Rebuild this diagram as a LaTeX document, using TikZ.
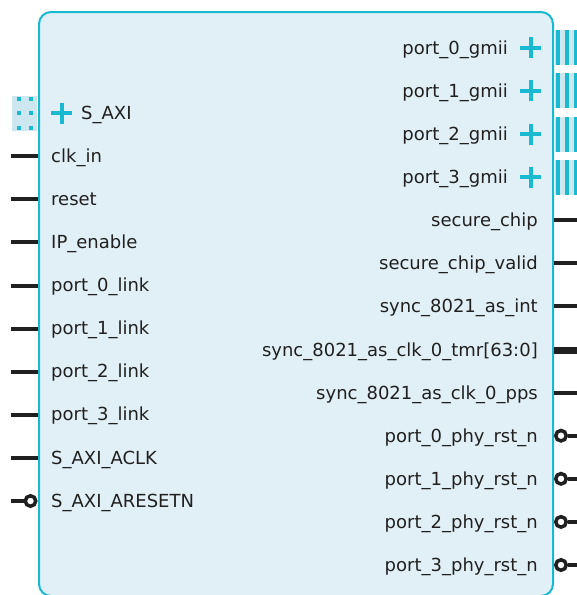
\documentclass[tikz,border=0pt]{standalone}
\usepackage{fontspec}
\setmainfont{DejaVu Sans}
\usepackage{xcolor}
\usepackage{tikz}
\usetikzlibrary{positioning, calc}
\definecolor{blockfill}{RGB}{225, 240, 247}
\definecolor{blockedge}{RGB}{24, 185, 209}
\definecolor{iconfill}{RGB}{205, 231, 240}
\definecolor{pintext}{RGB}{32, 32, 32}

\begin{document}
\begin{tikzpicture}[
    x=1pt, y=-1pt,
    block/.style={rectangle, draw=blockedge, fill=blockfill, line width=2pt, rounded corners=12pt,
                  minimum width=514pt, minimum height=584pt, inner sep=0pt},
    lport/.style={anchor=base west, inner sep=0pt, text=pintext, font=\fontsize{18}{20}\selectfont},
    rport/.style={anchor=base east, inner sep=0pt, text=pintext, font=\fontsize{18}{20}\selectfont},
    pin/.style={draw=pintext, line width=4pt},
    buspin/.style={draw=pintext, line width=7.5pt},
    bubble/.style={circle, draw=pintext, fill=white, line width=3.5pt, minimum size=10.5pt, inner sep=0pt},
    plus/.style={draw=blockedge, line width=4pt},
    dot/.style={fill=blockedge}
]
\useasboundingbox (0,0) rectangle (577,595);

% IP block
\node[block] (ip) at (296,304) {};

% S_AXI interface (left)
\fill[iconfill] (12,96) rectangle (37,131);
\fill[dot] (17,97) rectangle (21,101);
\fill[dot] (29,97) rectangle (33,101);
\fill[dot] (17,111) rectangle (21,115);
\fill[dot] (29,111) rectangle (33,115);
\fill[dot] (17,126) rectangle (21,130);
\fill[dot] (29,126) rectangle (33,130);
\draw[plus] (51,113) -- (72,113);
\draw[plus] (61.5,102.5) -- (61.5,123.5);
\node[lport] (saxi) at (81,119.5) {S\_AXI};

% Left ports
\node[lport] (clkin) at (51,162) {clk\_in};
\node[lport] (reset) at (51,205.5) {reset};
\node[lport] (ipen) at (51,248.5) {IP\_enable};
\node[lport] (link0) at (51,291.5) {port\_0\_link};
\node[lport] (link1) at (51,334.5) {port\_1\_link};
\node[lport] (link2) at (51,377.5) {port\_2\_link};
\node[lport] (link3) at (51,420.5) {port\_3\_link};
\node[lport] (aclk) at (51,464) {S\_AXI\_ACLK};
\node[lport] (aresetn) at (51,507) {S\_AXI\_ARESETN};

\coordinate (clkinE) at (11,156);
\coordinate (resetE) at (11,199);
\coordinate (ipenE) at (11,242);
\coordinate (link0E) at (11,285.5);
\coordinate (link1E) at (11,328.5);
\coordinate (link2E) at (11,371.5);
\coordinate (link3E) at (11,414.5);
\coordinate (aclkE) at (11,458);
\coordinate (aresetnE) at (11,501);
\node[bubble] (aresetnB) at (30.5,501) {};

\draw[pin] (clkinE) -- (clkinE -| ip.west);
\draw[pin] (resetE) -- (resetE -| ip.west);
\draw[pin] (ipenE) -- (ipenE -| ip.west);
\draw[pin] (link0E) -- (link0E -| ip.west);
\draw[pin] (link1E) -- (link1E -| ip.west);
\draw[pin] (link2E) -- (link2E -| ip.west);
\draw[pin] (link3E) -- (link3E -| ip.west);
\draw[pin] (aclkE) -- (aclkE -| ip.west);
\draw[pin] (aresetnE) -- (aresetnB);

% GMII interfaces (right)
\foreach \y in {47.8, 90.9, 134, 177.1} {
  \fill[iconfill] (555,\y-17.5) rectangle (577,\y+17.5);
  \fill[blockedge] (556,\y-17.5) rectangle (560,\y+17.5);
  \fill[blockedge] (565,\y-17.5) rectangle (569,\y+17.5);
  \fill[blockedge] (574,\y-17.5) rectangle (577,\y+17.5);
  \draw[plus] (520,\y) -- (541,\y);
  \draw[plus] (530.5,\y-10.5) -- (530.5,\y+10.5);
}
\node[rport] (gmii0) at (508,54.3) {port\_0\_gmii};
\node[rport] (gmii1) at (508,97.4) {port\_1\_gmii};
\node[rport] (gmii2) at (508,140.5) {port\_2\_gmii};
\node[rport] (gmii3) at (508,183.6) {port\_3\_gmii};

% Right ports
\node[rport] (chip) at (538,226.7) {secure\_chip};
\node[rport] (chipvalid) at (538,269.8) {secure\_chip\_valid};
\node[rport] (asint) at (538,312.9) {sync\_8021\_as\_int};
\node[rport] (tmr) at (538,356) {sync\_8021\_as\_clk\_0\_tmr[63:0]};
\node[rport] (pps) at (538,399.1) {sync\_8021\_as\_clk\_0\_pps};
\node[rport] (rst0) at (538,442.2) {port\_0\_phy\_rst\_n};
\node[rport] (rst1) at (538,485.3) {port\_1\_phy\_rst\_n};
\node[rport] (rst2) at (538,528.4) {port\_2\_phy\_rst\_n};
\node[rport] (rst3) at (538,571.5) {port\_3\_phy\_rst\_n};

\coordinate (chipE) at (577,220.2);
\coordinate (chipvalidE) at (577,263.3);
\coordinate (asintE) at (577,306.4);
\coordinate (tmrE) at (577,350.5);
\coordinate (ppsE) at (577,392.6);
\coordinate (rst0E) at (577,435.7);
\coordinate (rst1E) at (577,478.8);
\coordinate (rst2E) at (577,521.9);
\coordinate (rst3E) at (577,565);
\node[bubble] (rst0B) at (561,435.7) {};
\node[bubble] (rst1B) at (561,478.8) {};
\node[bubble] (rst2B) at (561,521.9) {};
\node[bubble] (rst3B) at (561,565) {};

\draw[pin] (chipE -| ip.east) -- (chipE);
\draw[pin] (chipvalidE -| ip.east) -- (chipvalidE);
\draw[pin] (asintE -| ip.east) -- (asintE);
\draw[buspin] (tmrE -| ip.east) -- (tmrE);
\draw[pin] (ppsE -| ip.east) -- (ppsE);
\draw[pin] (rst0B) -- (rst0E);
\draw[pin] (rst1B) -- (rst1E);
\draw[pin] (rst2B) -- (rst2E);
\draw[pin] (rst3B) -- (rst3E);

\end{tikzpicture}
\end{document}
